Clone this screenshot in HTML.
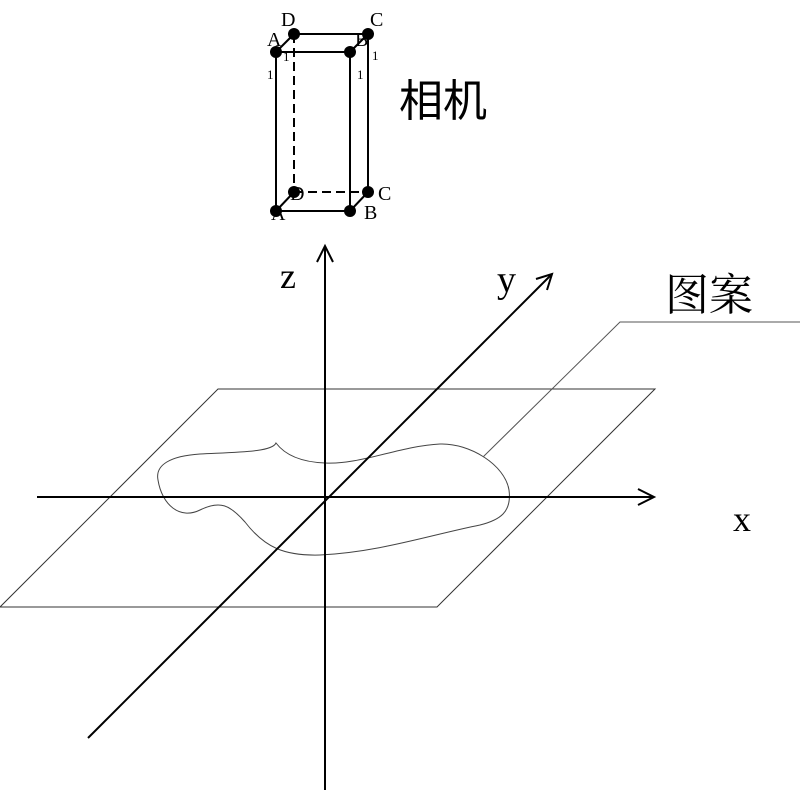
<!DOCTYPE html>
<html><head><meta charset="utf-8"><style>html,body{margin:0;padding:0;background:#fff}svg{display:block}</style></head>
<body>
<svg width="800" height="790" viewBox="0 0 800 790" xmlns="http://www.w3.org/2000/svg" font-family="Liberation Serif, Noto Serif CJK SC, serif">
<polygon points="218,389 655,389 437,607 0,607" fill="none" stroke="#333" stroke-width="1"/>
<path d="M276,443 C272,452 240,452 200,454 C170,456 155,465 158,480 C162,505 180,520 200,510 C220,500 230,505 245,522 C265,548 285,556 320,555 C380,552 430,535 480,525 C500,520 512,512 509,490 C505,465 470,443 440,444 C400,446 360,465 325,463 C300,462 285,455 276,443 Z" fill="none" stroke="#444" stroke-width="1"/>
<polyline points="483,457 620,322 800,322" fill="none" stroke="#555" stroke-width="1"/>
<g stroke="#000" stroke-width="2" fill="none">
<line x1="37" y1="497" x2="654" y2="497"/>
<polyline points="638,489 654,497 638,505"/>
<line x1="325" y1="790" x2="325" y2="246"/>
<polyline points="317,262 325,246 333,262"/>
<line x1="88" y1="738" x2="552" y2="274"/>
<polyline points="536,279 552,274 547,290"/>
</g>
<text x="280" y="288" font-size="36">z</text>
<text x="497" y="292" font-size="38">y</text>
<text x="733" y="531" font-size="36">x</text>
<text x="665" y="310" font-size="44" font-family="Liberation Serif, Noto Serif CJK SC, serif">图案</text>
<text x="399" y="116" font-size="44" font-family="Liberation Sans, Noto Sans CJK SC, sans-serif">相机</text>
<g stroke="#000" stroke-width="2" fill="none">
<rect x="276" y="52" width="74" height="159"/>
<line x1="294" y1="34" x2="368" y2="34"/>
<line x1="368" y1="34" x2="368" y2="192"/>
<line x1="276" y1="52" x2="294" y2="34"/>
<line x1="350" y1="52" x2="368" y2="34"/>
<line x1="350" y1="211" x2="368" y2="192"/>
<line x1="276" y1="211" x2="294" y2="192"/>
<line x1="294" y1="34" x2="294" y2="192" stroke-dasharray="9,5"/>
<line x1="294" y1="192" x2="368" y2="192" stroke-dasharray="9,5"/>
</g>
<g fill="#000">
<circle cx="276" cy="52" r="6"/><circle cx="350" cy="52" r="6"/>
<circle cx="294" cy="34" r="6"/><circle cx="368" cy="34" r="6"/>
<circle cx="276" cy="211" r="6"/><circle cx="350" cy="211" r="6"/>
<circle cx="294" cy="192" r="6"/><circle cx="368" cy="192" r="6"/>
</g>
<g font-size="20">
<text x="281" y="26">D</text><text x="370" y="26">C</text>
<text x="267" y="46">A</text><text x="355" y="46">B</text>
<text x="290" y="200">D</text><text x="378" y="200">C</text>
<text x="271" y="220">A</text><text x="364" y="219">B</text>
</g>
<g font-size="13">
<text x="283" y="61">1</text><text x="372" y="60">1</text>
<text x="267" y="79">1</text><text x="357" y="79">1</text>
</g>
</svg>
</body></html>
